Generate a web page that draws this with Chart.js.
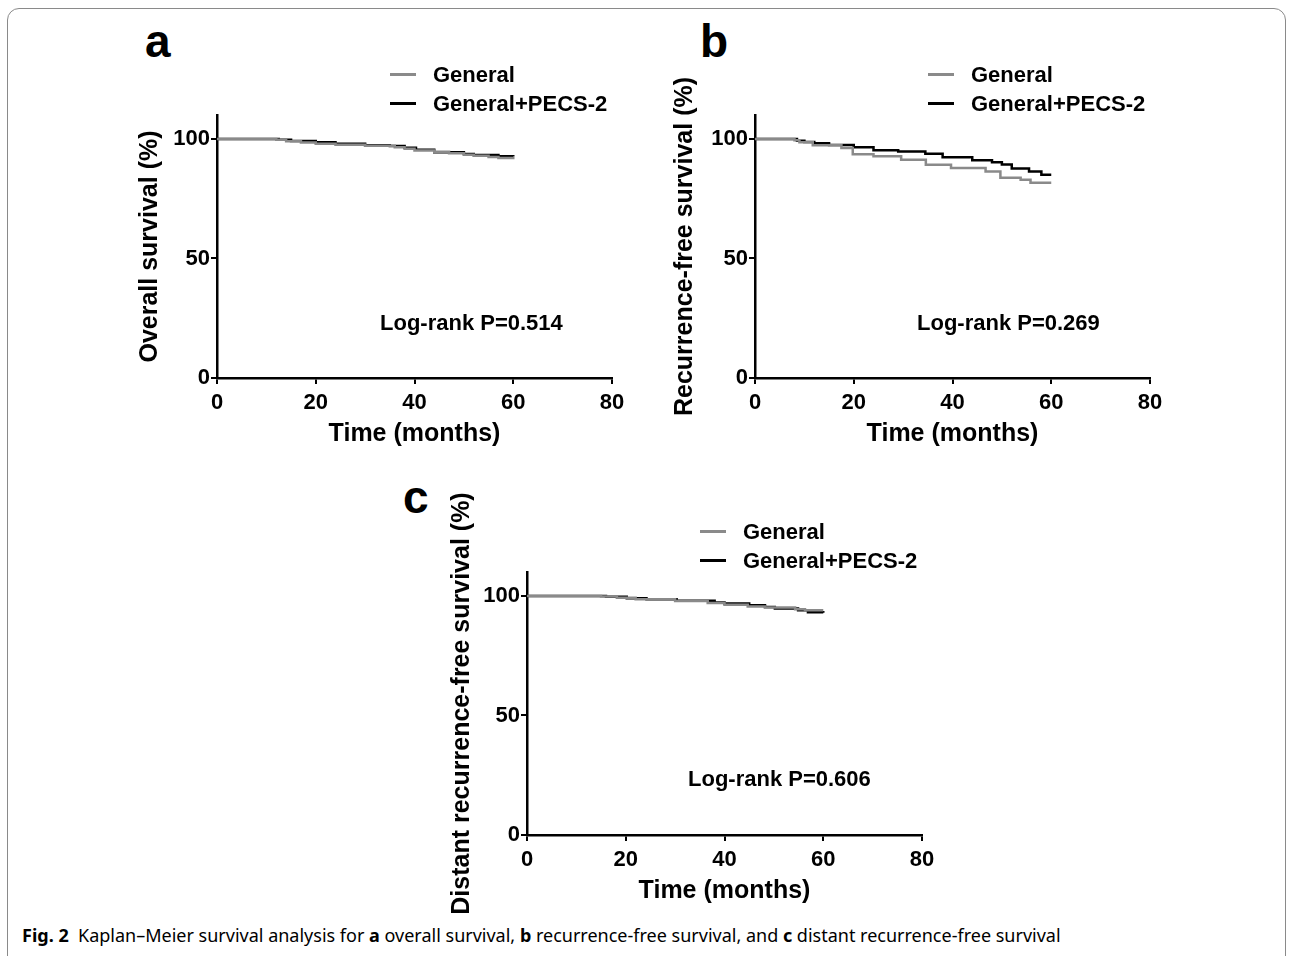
<!DOCTYPE html>
<html lang="en">
<head>
<meta charset="UTF-8"/>
<title>Fig. 2 Kaplan–Meier survival</title>
<script src="https://cdn.jsdelivr.net/npm/chart.js"></script>
<style>
    body { margin: 0; background: #fff; width: 1292px; height: 956px; overflow: hidden; position: relative; font-family: "Liberation Sans", Arial, sans-serif; color: #000; }
    .frame { position: absolute; left: 7px; top: 8px; width: 1277px; height: 990px; border: 1px solid #8a8a8a; border-radius: 12px; }
    .letter { position: absolute; font-weight: bold; font-size: 46px; line-height: 1; }
    canvas { position: absolute; }
    .legend { position: absolute; font-weight: bold; font-size: 22px; }
    .legend-row { display: flex; align-items: center; height: 29px; }
    .legend-line { width: 26px; height: 3px; margin-right: 17px; }
    .logrank { position: absolute; font-weight: bold; font-size: 22px; line-height: 1; white-space: nowrap; }
    .caption { position: absolute; left: 22px; top: 923px; font-family: "Noto Sans", sans-serif; font-size: 18px; line-height: 24px; white-space: nowrap; }
</style>
</head>
<body>
<div class="frame"></div>

<div class="letter" style="left:145px; top:18px;">a</div>
<div class="letter" style="left:700px; top:18px;">b</div>
<div class="letter" style="left:403px; top:474px;">c</div>

<canvas id="chartA" width="520" height="410" style="left:117px; top:45px;"></canvas>
<canvas id="chartB" width="520" height="410" style="left:655px; top:45px;"></canvas>
<canvas id="chartC" width="520" height="450" style="left:427px; top:472px;"></canvas>

<div class="legend" id="legendA" style="left:390px; top:60px;"></div>
<div class="legend" id="legendB" style="left:928px; top:60px;"></div>
<div class="legend" id="legendC" style="left:700px; top:517px;"></div>

<div class="logrank" style="left:380px; top:312px;">Log-rank P=0.514</div>
<div class="logrank" style="left:917px; top:312px;">Log-rank P=0.269</div>
<div class="logrank" style="left:688px; top:768px;">Log-rank P=0.606</div>

<div class="caption"><b>Fig. 2</b>&nbsp; Kaplan–Meier survival analysis for <b>a</b> overall survival, <b>b</b> recurrence-free survival, and <b>c</b> distant recurrence-free survival</div>

<script>
    // series names and axis ticks
    const seriesNames = ['General', 'General+PECS-2'];
    const xTicks = [0, 20, 40, 60, 80];
    const yTicks = [0, 50, 100];

    // a: overall survival
    const aGenTime  = [0, 12, 14, 17, 20, 24, 30, 36, 38, 40, 44, 47, 50, 52, 55, 57, 60];
    const aGenSurv  = [100, 99.6, 99.0, 98.5, 98.0, 97.6, 97.1, 96.5, 95.9, 95.2, 94.6, 94.0, 93.4, 93.0, 92.4, 92.0, 91.5];
    const aPecsTime = [0, 12.5, 15, 20, 24, 30, 35, 38, 40.3, 44, 50, 52, 57, 60];
    const aPecsSurv = [100, 99.6, 99.1, 98.6, 98.0, 97.4, 97.0, 96.3, 95.5, 94.4, 93.7, 93.3, 92.7, 92.6];

    // b: recurrence-free survival
    const bGenTime  = [0, 8, 9, 11.7, 17.5, 19.8, 24, 29.6, 34.6, 39.7, 46.7, 49.7, 53.8, 55.8, 60];
    const bGenSurv  = [100, 99.4, 98.6, 97.4, 96.2, 93.6, 92.7, 91.3, 89.2, 87.8, 86.4, 83.8, 82.9, 81.7, 81.7];
    const bPecsTime = [0, 8.5, 10, 12, 15, 20, 24, 29, 34.5, 38, 44, 48, 50, 52, 55.5, 58, 60];
    const bPecsSurv = [100, 99.2, 98.7, 98.2, 97.5, 96.5, 95.3, 94.7, 93.8, 92.3, 91.1, 90.2, 89.3, 87.6, 86.4, 85.0, 85.0];

    // c: distant recurrence-free survival
    const cGenTime  = [0, 15, 18.2, 22, 30, 36.6, 40, 44.7, 48.2, 54.3, 56.3, 60];
    const cGenSurv  = [100, 99.8, 99.2, 98.6, 97.9, 97.0, 96.3, 95.6, 95.1, 94.4, 94.0, 94.0];
    const cPecsTime = [0, 16, 20.2, 24.2, 30.3, 38, 40, 45, 48.2, 50.2, 54.9, 56.9, 60];
    const cPecsSurv = [100, 99.6, 99.0, 98.6, 98.0, 97.2, 96.8, 96.1, 95.4, 94.7, 94.0, 93.2, 93.0];

    const toPoints = (t, s) => t.map((x, i) => ({ x: x, y: s[i] }));
    const boldFont = size => ({ family: '"Liberation Sans", Arial, sans-serif', size: size, weight: 'bold' });

    function makeChart(id, legendId, yTitle, titlePad, padTop, padBottom, gen, pecs) {
        const config = {
            type: 'line',
            data: {
                datasets: [
                    { label: seriesNames[0], data: gen, borderColor: '#8a8a8a', backgroundColor: '#8a8a8a', borderWidth: 2.5, stepped: 'before', pointRadius: 0, fill: false },
                    { label: seriesNames[1], data: pecs, borderColor: '#000', backgroundColor: '#000', borderWidth: 2.5, stepped: 'before', pointRadius: 0, fill: false }
                ]
            },
            options: {
                responsive: false,
                animation: false,
                layout: { padding: { top: padTop, right: 25, left: 0, bottom: padBottom } },
                plugins: { legend: { display: false }, tooltip: { enabled: false } },
                scales: {
                    x: {
                        type: 'linear', min: 0, max: 80,
                        afterBuildTicks: s => { s.ticks = xTicks.map(v => ({ value: v })); },
                        afterFit: s => { s.height = 77; },
                        grid: { drawOnChartArea: false, color: '#000', lineWidth: 2, tickLength: 6 },
                        border: { color: '#000', width: 2.5 },
                        ticks: { color: '#000', font: boldFont(22), padding: 6, maxRotation: 0 },
                        title: { display: true, text: 'Time (months)', color: '#000', font: boldFont(25), padding: { top: 0, bottom: 6 } }
                    },
                    y: {
                        min: 0, max: 110,
                        afterBuildTicks: s => { s.ticks = yTicks.map(v => ({ value: v })); },
                        afterFit: s => { s.width = 100; },
                        grid: { drawOnChartArea: false, color: '#000', lineWidth: 2, tickLength: 6 },
                        border: { color: '#000', width: 2.5 },
                        ticks: { color: '#000', font: boldFont(22), padding: 1 },
                        title: { display: true, text: yTitle, color: '#000', font: boldFont(25), padding: { top: titlePad, bottom: 0 } }
                    }
                }
            }
        };
        const chart = new Chart(document.getElementById(id), config);

        // legend built from the chart datasets
        const box = document.getElementById(legendId);
        chart.data.datasets.forEach(ds => {
            const row = document.createElement('div');
            row.className = 'legend-row';
            const line = document.createElement('span');
            line.className = 'legend-line';
            line.style.background = ds.borderColor;
            const txt = document.createElement('span');
            txt.textContent = ds.label;
            row.appendChild(line);
            row.appendChild(txt);
            box.appendChild(row);
        });
        return chart;
    }

    makeChart('chartA', 'legendA', 'Overall survival (%)', 18, 70, 0, toPoints(aGenTime, aGenSurv), toPoints(aPecsTime, aPecsSurv));
    makeChart('chartB', 'legendB', 'Recurrence-free survival (%)', 15, 70, 0, toPoints(bGenTime, bGenSurv), toPoints(bPecsTime, bPecsSurv));
    makeChart('chartC', 'legendC', 'Distant recurrence-free survival (%)', 20, 100, 10, toPoints(cGenTime, cGenSurv), toPoints(cPecsTime, cPecsSurv));
</script>
</body>
</html>
